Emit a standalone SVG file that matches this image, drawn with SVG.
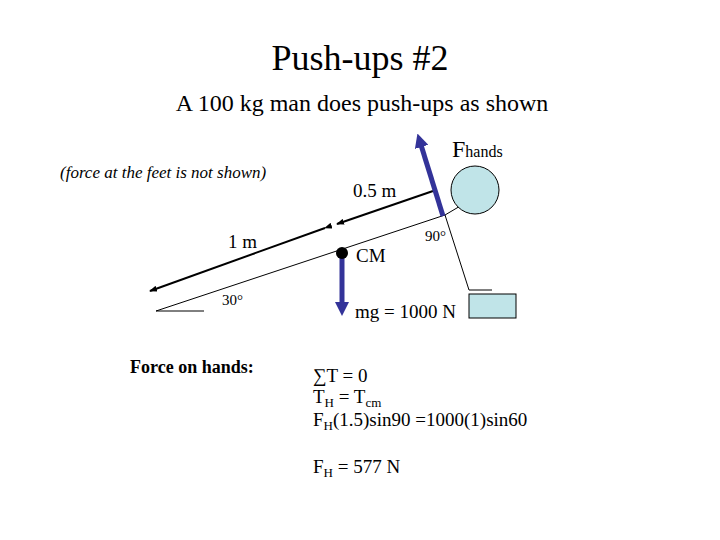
<svg xmlns="http://www.w3.org/2000/svg" width="720" height="540" viewBox="0 0 720 540">
<style>
text{font-family:"Liberation Serif",serif;fill:#000}
.thin{stroke:#000;stroke-width:1;fill:none}
.dim{stroke:#000;stroke-width:2;fill:none}
.force{stroke:#333399;stroke-width:5;fill:none}
</style>
<defs>
<marker id="ah" markerWidth="8" markerHeight="6" refX="7" refY="3" orient="auto" markerUnits="userSpaceOnUse"><path d="M0,0 L8,3 L0,6 z" fill="#000"/></marker>
<marker id="fh" markerWidth="14" markerHeight="14" refX="2" refY="7" orient="auto" markerUnits="userSpaceOnUse"><path d="M0,0 L14,7 L0,14 z" fill="#333399"/></marker>
</defs>
<rect width="720" height="540" fill="#fff"/>
<text x="360" y="70" font-size="36" text-anchor="middle">Push-ups #2</text>
<text x="362" y="111" font-size="24" text-anchor="middle">A 100 kg man does push-ups as shown</text>
<text x="60" y="178" font-size="17" font-style="italic">(force at the feet is not shown)</text>
<g id="body">
<path class="thin" d="M156,311 L445,215 L467,202"/>
<path class="thin" d="M156,311 L204,311"/>
<path class="thin" d="M445,215 L469,290 L492,290"/>
<circle cx="475" cy="190" r="24" fill="#c0e4e8" stroke="#000"/>
<rect x="469" y="294" width="47" height="24" fill="#c0e4e8" stroke="#000"/>
</g>
<g id="connectors">
<line class="dim" x1="325" y1="228" x2="150" y2="291" marker-start="url(#ah)" marker-end="url(#ah)"/>
<line class="dim" x1="433" y1="191" x2="337" y2="224" marker-end="url(#ah)"/>
<line class="force" x1="443" y1="216" x2="421" y2="145" marker-end="url(#fh)"/>
<line class="force" x1="342" y1="254" x2="342" y2="304" marker-end="url(#fh)"/>
</g>
<g id="cm"><circle cx="342" cy="253" r="6" fill="#000"/></g>
<text x="452" y="157" font-size="24">F<tspan font-size="16">hands</tspan></text>
<text x="353" y="197" font-size="19">0.5 m</text>
<text x="228" y="248" font-size="19">1 m</text>
<text x="356" y="262" font-size="19">CM</text>
<text x="425" y="241" font-size="15" font-family="Liberation Sans,sans-serif">90°</text>
<text x="222" y="305" font-size="15" font-family="Liberation Sans,sans-serif">30°</text>
<text x="355" y="318" font-size="19">mg = 1000 N</text>
<text x="130" y="373" font-size="18" font-weight="bold">Force on hands:</text>
<text x="313" y="382" font-size="19">∑T = 0</text>
<text x="313" y="403" font-size="19">T<tspan font-size="13" dy="4">H</tspan><tspan dy="-4"> = T</tspan><tspan font-size="13" dy="4">cm</tspan></text>
<text x="313" y="426" font-size="19">F<tspan font-size="13" dy="4">H</tspan><tspan dy="-4">(1.5)sin90 =1000(1)sin60</tspan></text>
<text x="313" y="473" font-size="19">F<tspan font-size="13" dy="4">H</tspan><tspan dy="-4"> = 577 N</tspan></text>
</svg>
